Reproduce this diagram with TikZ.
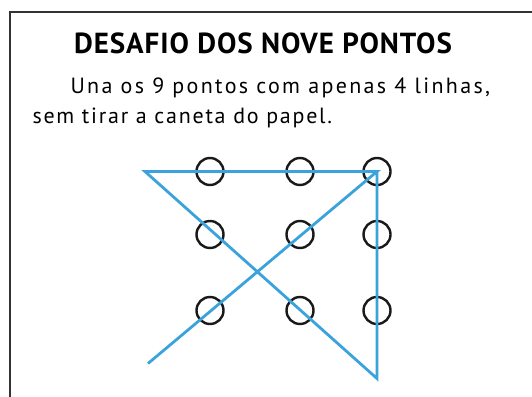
\documentclass[tikz,border=0pt]{standalone}
\usepackage{fontspec}
\setmainfont{PT Sans}
\definecolor{lineblue}{HTML}{3BA3DC}
\definecolor{frame}{HTML}{333333}
\begin{document}
\begin{tikzpicture}[x=1pt,y=-1pt,
  dot/.style={circle,draw=black!90,line width=2.4pt,minimum size=27pt,inner sep=0pt},
  sol/.style={draw=lineblue,line width=2.8pt,line join=miter},
  title/.style={font=\bfseries\fontsize{29}{33}\selectfont\addfontfeatures{LetterSpace=3.3},anchor=base},
  body/.style={font=\fontsize{22}{26}\selectfont,anchor=base west}]
\useasboundingbox (0,0) rectangle (532,396);
\fill[white] (0,0) rectangle (532,396);
\draw[frame,line width=1.5pt] (10,400) -- (10,12) -- (540,12);
\node[title] (t) at (263,54) {DESAFIO DOS NOVE PONTOS};
\node[body] (l1) at (67,93) {\addfontfeatures{LetterSpace=10.6}Una os 9 pontos com apenas 4 linhas,};
\node[body] (l2) at (29,123) {\addfontfeatures{LetterSpace=8}sem tirar a caneta do papel.};
\foreach \c/\x in {1/210,2/300,3/377}{
  \foreach \r/\y in {1/171.5,2/234.5,3/310.5}{
    \node[dot] (d\r\c) at (\x,\y) {};
  }
}
\coordinate (A) at (145,171.5);
\coordinate (B) at (377,171.5);
\coordinate (C) at (377,378.5);
\coordinate (D) at (148,363.5);
\draw[sol] (D) -- (B) -- (A) -- (C) -- (B);
\end{tikzpicture}
\end{document}
